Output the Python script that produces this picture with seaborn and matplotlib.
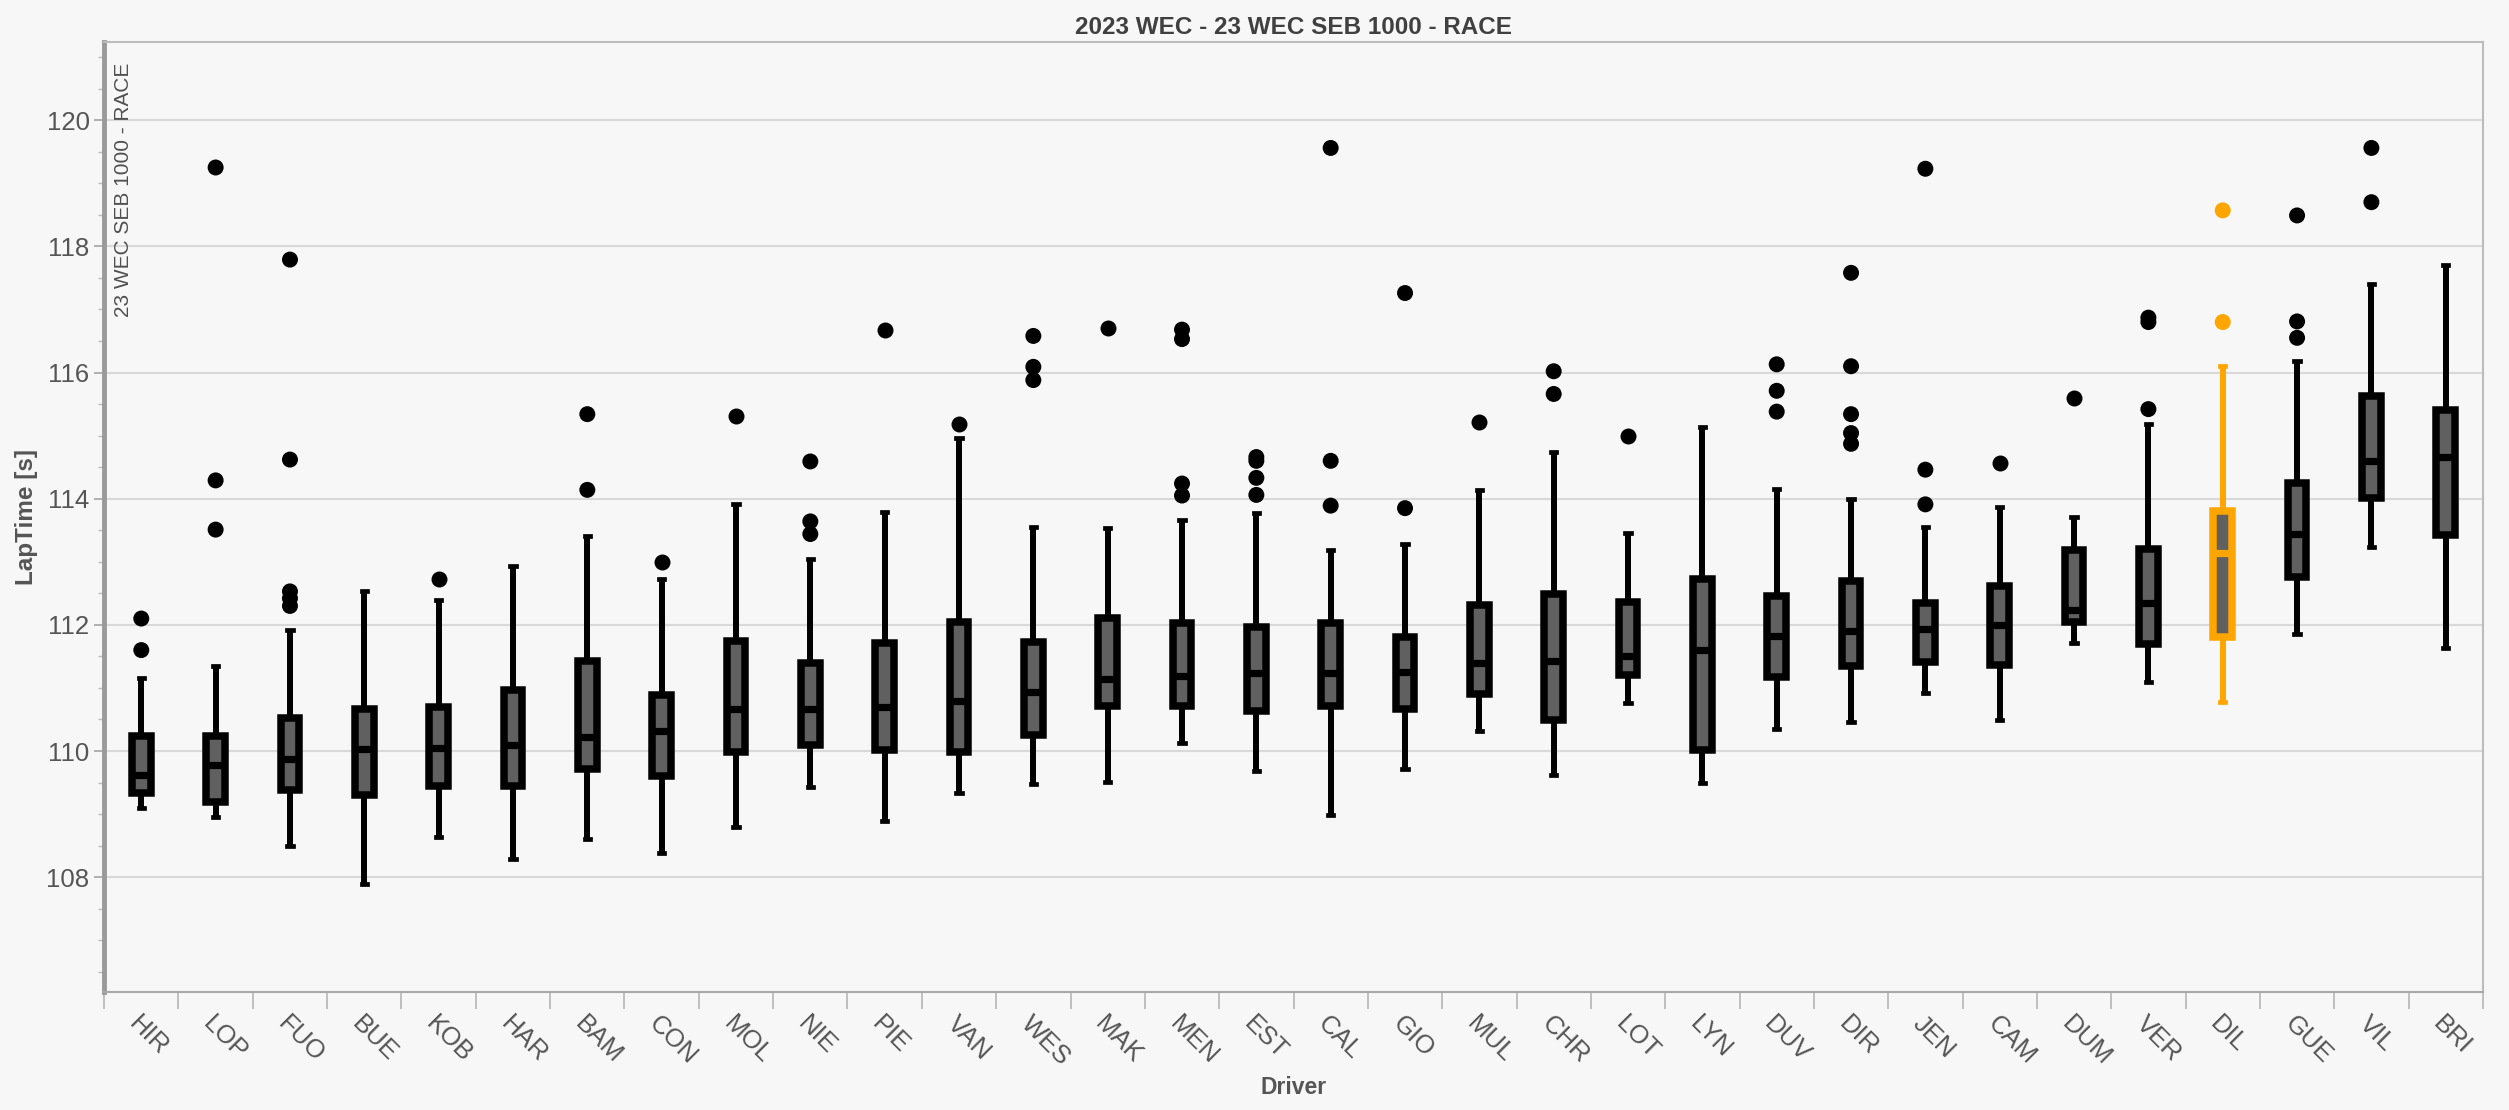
import pandas as pd
import matplotlib
matplotlib.use('Agg')
from matplotlib import pyplot as plt
from matplotlib.ticker import MultipleLocator
import seaborn as sns

drivers = ['HIR', 'LOP', 'FUO', 'BUE', 'KOB', 'HAR', 'BAM', 'CON', 'MOL', 'NIE',
           'PIE', 'VAN', 'WES', 'MAK', 'MEN', 'EST', 'CAL', 'GIO', 'MUL', 'CHR',
           'LOT', 'LYN', 'DUV', 'DIR', 'JEN', 'CAM', 'DUM', 'VER', 'DIL', 'GUE',
           'VIL', 'BRI']

# box statistics (seconds)
whisker_low = [109.10, 108.96, 108.49, 107.89, 108.64, 108.29, 108.61, 108.39, 108.79, 109.43,
               108.89, 109.34, 109.48, 109.51, 110.12, 109.69, 108.99, 109.71, 110.32, 109.62,
               110.76, 109.49, 110.35, 110.46, 110.92, 110.49, 111.71, 111.10, 110.78, 111.86,
               113.23, 111.64]
q1 = [109.34, 109.19, 109.39, 109.30, 109.44, 109.44, 109.71, 109.60, 109.98, 110.09,
      110.01, 109.98, 110.26, 110.71, 110.71, 110.64, 110.71, 110.66, 110.91, 110.49,
      111.21, 110.01, 111.17, 111.34, 111.41, 111.36, 112.04, 111.69, 111.80, 112.76,
      114.01, 113.42]
median = [109.62, 109.78, 109.87, 110.03, 110.05, 110.09, 110.23, 110.31, 110.67, 110.67,
          110.69, 110.80, 110.94, 111.14, 111.19, 111.23, 111.23, 111.26, 111.39, 111.42,
          111.51, 111.60, 111.82, 111.91, 111.94, 111.99, 112.23, 112.34, 113.14, 113.44,
          114.59, 114.66]
q3 = [110.24, 110.24, 110.53, 110.67, 110.69, 110.96, 111.42, 110.89, 111.74, 111.39,
      111.71, 112.05, 111.73, 112.11, 112.03, 111.96, 112.03, 111.80, 112.31, 112.49,
      112.37, 112.73, 112.46, 112.69, 112.35, 112.61, 113.19, 113.21, 113.80, 114.25,
      115.62, 115.40]
whisker_high = [111.16, 111.34, 111.92, 112.53, 112.39, 112.93, 113.41, 112.73, 113.92, 113.05,
                113.79, 114.96, 113.55, 113.54, 113.66, 113.78, 113.19, 113.28, 114.14, 114.74,
                113.46, 115.14, 114.16, 114.00, 113.55, 113.87, 113.71, 115.18, 116.10, 116.19,
                117.41, 117.71]

outliers = {
    'HIR': [112.10, 111.60],
    'LOP': [119.25, 114.29, 113.51],
    'FUO': [117.79, 114.62, 112.53, 112.42, 112.30],
    'KOB': [112.73],
    'BAM': [115.34, 114.14],
    'CON': [112.99],
    'MOL': [115.31],
    'NIE': [114.59, 113.64, 113.44],
    'PIE': [116.67],
    'VAN': [115.18],
    'WES': [116.58, 116.09, 115.88],
    'MAK': [116.70],
    'MEN': [116.68, 116.53, 114.24, 114.05],
    'EST': [114.66, 114.60, 114.33, 114.06],
    'CAL': [119.56, 114.60, 113.89],
    'GIO': [117.26, 113.85],
    'MUL': [115.21],
    'CHR': [116.02, 115.66],
    'LOT': [115.00],
    'DUV': [116.13, 115.71, 115.38],
    'DIR': [117.58, 116.10, 115.34, 115.04, 114.87],
    'JEN': [119.23, 114.46, 113.91],
    'CAM': [114.56],
    'DUM': [115.60],
    'VER': [116.87, 116.80, 115.42],
    'DIL': [118.57, 116.80],
    'GUE': [118.49, 116.81, 116.55],
    'VIL': [119.56, 118.70],
}

highlight = 'DIL'
highlight_color = '#FFA500'

# five points per driver -> exact quartiles, whiskers at min/max
rows = []
for d, lo, a, m, b, hi in zip(drivers, whisker_low, q1, median, q3, whisker_high):
    for v in (lo, a, m, b, hi):
        rows.append((d, v))
box_df = pd.DataFrame(rows, columns=['Driver', 'LapTime'])

out_df = pd.DataFrame([(d, v) for d, vals in outliers.items() for v in vals],
                      columns=['Driver', 'LapTime'])

sns.set_style('whitegrid')
plt.rcParams['font.family'] = ['Liberation Sans Narrow', 'Liberation Sans', 'DejaVu Sans']
bg = '#f7f7f7'

fig = plt.figure(figsize=(25.09, 11.10), dpi=100, facecolor=bg)
ax = fig.add_axes([0.0415, 0.1063, 0.9481, 0.8559])
ax.set_facecolor(bg)

box_kw = dict(x='Driver', y='LapTime', order=drivers, whis=(0, 100), width=0.25,
              color='#606060', saturation=1, linewidth=4.2, showfliers=False,
              capwidths=0.07, ax=ax)
sns.boxplot(data=box_df[box_df.Driver != highlight], linecolor='black', **box_kw)
sns.boxplot(data=box_df[box_df.Driver == highlight], linecolor=highlight_color, **box_kw)

# thick box outlines, median bands and square caps, like the original chart
for p in ax.patches:
    p.set_linewidth(5.4)
for ln in ax.lines:
    xd, yd = ln.get_xdata(), ln.get_ydata()
    if len(yd) == 2 and yd[0] == yd[1]:
        if abs(xd[1] - xd[0]) > 0.15:
            ln.set_linewidth(5.2)
            ln.set_solid_capstyle('butt')
            ln.set_zorder(4)
        else:
            ln.set_linewidth(3.4)
            ln.set_solid_capstyle('projecting')
    else:
        ln.set_linewidth(4.3)
        ln.set_solid_capstyle('butt')

pal = {d: (highlight_color if d == highlight else 'black') for d in drivers}
sns.stripplot(data=out_df, x='Driver', y='LapTime', order=drivers, hue='Driver',
              palette=pal, jitter=False, size=11.5, linewidth=0, legend=False, ax=ax,
              zorder=5)

ax.set_xlim(-0.5, len(drivers) - 0.5)
ax.set_ylim(106.18, 121.24)
ax.yaxis.set_major_locator(MultipleLocator(2))
ax.yaxis.set_minor_locator(MultipleLocator(0.5))
ax.set_xticks(range(len(drivers)))
ax.set_xticks([i - 0.5 for i in range(len(drivers) + 1)], minor=True)
ax.set_xticklabels(drivers, rotation=-45, ha='left', rotation_mode='anchor')

ax.grid(False, axis='x')
ax.grid(True, axis='y', color='#d9d9d9', linewidth=1.5)
ax.set_axisbelow(True)

ax.tick_params(axis='x', which='major', length=0, pad=14, labelsize=18.5, labelcolor='#555555')
ax.tick_params(axis='x', which='minor', length=12, width=1.3, color='#bbbbbb', bottom=True)
ax.tick_params(axis='y', which='major', length=7, width=1.3, color='#aaaaaa',
               labelsize=18.5, labelcolor='#555555', left=True)
ax.tick_params(axis='y', which='minor', length=4, width=1.0, color='#bbbbbb', left=True)

for side in ['top', 'right']:
    ax.spines[side].set_color('#bcbcbc')
    ax.spines[side].set_linewidth(1.5)
ax.spines['bottom'].set_color('#a8a8a8')
ax.spines['bottom'].set_linewidth(1.5)
ax.spines['left'].set_color('#9a9a9a')
ax.spines['left'].set_linewidth(3.5)

ax.set_title('2023 WEC - 23 WEC SEB 1000 - RACE', fontsize=17.5, fontweight='bold',
             color='#404040', pad=6)
ax.set_xlabel('Driver', fontsize=16.5, fontweight='bold', color='#555555', labelpad=4)
ax.set_ylabel('LapTime [s]', fontsize=17.5, fontweight='bold', color='#555555', labelpad=6)

ax.text(0.004, 0.978, '23 WEC SEB 1000 - RACE', transform=ax.transAxes, rotation=90,
        ha='left', va='top', fontsize=15, color='#505050')

fig.savefig('out.png', dpi=100, facecolor=bg)
